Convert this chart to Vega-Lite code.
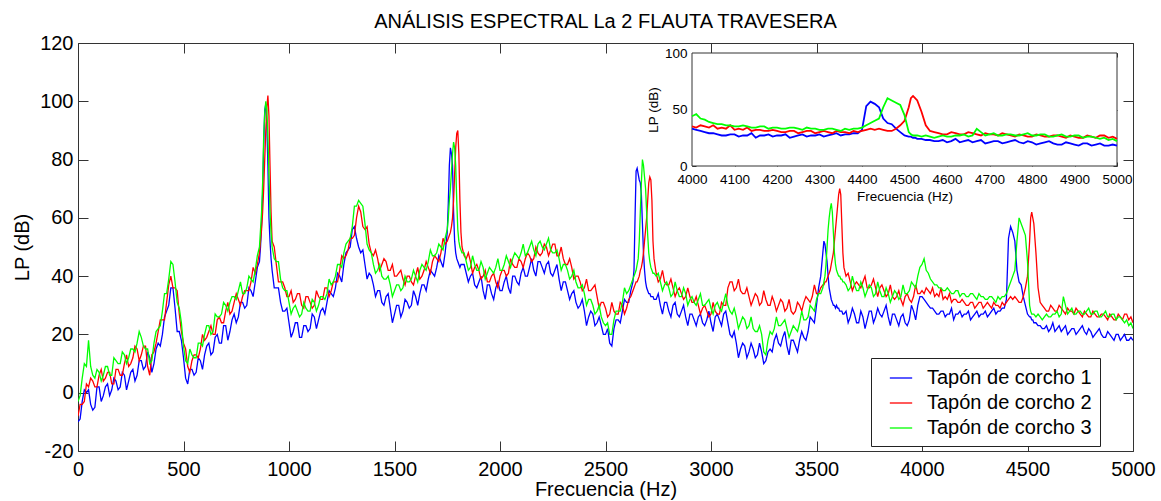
{
"$schema": "https://vega.github.io/schema/vega-lite/v6.json",
"width": 1055, "height": 408,
"autosize": {"type": "none"},
"padding": {"left": 78, "top": 43, "right": 28, "bottom": 50},
"background": "white",
"title": {"text": "ANÁLISIS ESPECTRAL La 2 FLAUTA TRAVESERA", "font": "Liberation Sans", "fontSize": 20, "fontWeight": "normal", "color": "black", "offset": 1, "anchor": "middle"},
"config": {
  "view": {"stroke": "#333333", "strokeWidth": 1},
  "axis": {"grid": false, "domain": false, "tickColor": "#333333", "labelFont": "Liberation Sans", "labelColor": "black", "titleFont": "Liberation Sans", "titleFontWeight": "normal", "titleColor": "black", "labelFlush": false, "labelOverlap": false, "format": "d"},
  "legend": {"orient": "none", "legendX": 793, "legendY": 315, "symbolType": "stroke", "symbolSize": 500, "symbolStrokeWidth": 1.3, "symbolOffset": 10, "labelFont": "Liberation Sans", "labelFontSize": 20, "labelColor": "black", "labelLimit": 0, "strokeColor": "#222222", "fillColor": "white", "padding": 8, "rowPadding": 3, "labelOffset": 14}
},
"datasets": {"spec": [
{"f":0,"t1":-10,"t2":-8,"t3":-3},{"f":10,"t1":-9,"t2":-4,"t3":-1},{"f":20,"t1":-3,"t2":-4,"t3":5},{"f":30,"t1":1,"t2":-3,"t3":10},{"f":40,"t1":0,"t2":3,"t3":9},{"f":50,"t1":1,"t2":2,"t3":18},{"f":60,"t1":-4,"t2":5,"t3":9},{"f":70,"t1":-6,"t2":4,"t3":6},{"f":80,"t1":-5,"t2":2,"t3":5},{"f":90,"t1":2,"t2":2,"t3":8},{"f":100,"t1":2,"t2":6,"t3":7},{"f":110,"t1":-3,"t2":8,"t3":4},{"f":120,"t1":-1,"t2":4,"t3":6},{"f":130,"t1":2,"t2":5,"t3":9},{"f":140,"t1":3,"t2":7,"t3":9},{"f":150,"t1":-1,"t2":7,"t3":6},{"f":160,"t1":1,"t2":3,"t3":6},{"f":170,"t1":5,"t2":3,"t3":12},{"f":180,"t1":4,"t2":8,"t3":11},{"f":190,"t1":1,"t2":8,"t3":10},{"f":200,"t1":2,"t2":6,"t3":10},{"f":210,"t1":7,"t2":6,"t3":14},{"f":220,"t1":6,"t2":10,"t3":13},{"f":230,"t1":1,"t2":13,"t3":10},{"f":240,"t1":4,"t2":9,"t3":12},{"f":250,"t1":7,"t2":10,"t3":15},{"f":260,"t1":8,"t2":12,"t3":15},{"f":270,"t1":4,"t2":16,"t3":14},{"f":280,"t1":6,"t2":15,"t3":17},{"f":290,"t1":11,"t2":11,"t3":21},{"f":300,"t1":11,"t2":13,"t3":19},{"f":310,"t1":8,"t2":16,"t3":16},{"f":320,"t1":9,"t2":16,"t3":15},{"f":330,"t1":14,"t2":9,"t3":15},{"f":340,"t1":12,"t2":6,"t3":10},{"f":350,"t1":7,"t2":13,"t3":11},{"f":360,"t1":10,"t2":14,"t3":17},{"f":370,"t1":15,"t2":17,"t3":21},{"f":380,"t1":17,"t2":21,"t3":22},{"f":390,"t1":16,"t2":25,"t3":23},{"f":400,"t1":20,"t2":25,"t3":28},{"f":410,"t1":26,"t2":25,"t3":34},{"f":420,"t1":28,"t2":31,"t3":34},{"f":430,"t1":30,"t2":37,"t3":39},{"f":440,"t1":36,"t2":40,"t3":45},{"f":450,"t1":36,"t2":36,"t3":44},{"f":460,"t1":29,"t2":36,"t3":38},{"f":470,"t1":21,"t2":35,"t3":31},{"f":480,"t1":21,"t2":27,"t3":29},{"f":490,"t1":18,"t2":21,"t3":24},{"f":500,"t1":12,"t2":17,"t3":16},
{"f":510,"t1":5,"t2":15,"t3":11},{"f":520,"t1":3,"t2":9,"t3":10},{"f":530,"t1":8,"t2":7,"t3":15},{"f":540,"t1":8,"t2":11,"t3":13},{"f":550,"t1":6,"t2":13,"t3":12},{"f":560,"t1":7,"t2":13,"t3":12},{"f":570,"t1":12,"t2":12,"t3":17},{"f":580,"t1":11,"t2":15,"t3":17},{"f":590,"t1":8,"t2":20,"t3":16},{"f":600,"t1":13,"t2":18,"t3":20},{"f":610,"t1":16,"t2":19,"t3":23},{"f":620,"t1":17,"t2":21,"t3":23},{"f":630,"t1":13,"t2":23,"t3":20},{"f":640,"t1":14,"t2":20,"t3":21},{"f":650,"t1":19,"t2":20,"t3":27},{"f":660,"t1":20,"t2":25,"t3":26},{"f":670,"t1":17,"t2":26,"t3":26},{"f":680,"t1":17,"t2":24,"t3":27},{"f":690,"t1":23,"t2":24,"t3":31},{"f":700,"t1":23,"t2":28,"t3":30},{"f":710,"t1":18,"t2":31,"t3":28},{"f":720,"t1":21,"t2":27,"t3":31},{"f":730,"t1":25,"t2":28,"t3":33},{"f":740,"t1":27,"t2":31,"t3":33},{"f":750,"t1":24,"t2":34,"t3":32},{"f":760,"t1":26,"t2":32,"t3":35},{"f":770,"t1":31,"t2":30,"t3":38},{"f":780,"t1":31,"t2":33,"t3":34},{"f":790,"t1":29,"t2":35,"t3":34},{"f":800,"t1":30,"t2":35,"t3":36},{"f":810,"t1":36,"t2":35,"t3":40},{"f":820,"t1":35,"t2":38,"t3":39},{"f":830,"t1":33,"t2":43,"t3":38},{"f":840,"t1":38,"t2":41,"t3":42},{"f":850,"t1":43,"t2":44,"t3":47},{"f":860,"t1":45,"t2":48,"t3":50},{"f":865,"t1":50,"t2":52,"t3":56},{"f":870,"t1":58,"t2":56,"t3":62},{"f":875,"t1":68,"t2":62,"t3":72},{"f":880,"t1":85,"t2":70,"t3":88},{"f":885,"t1":97,"t2":80,"t3":96},{"f":890,"t1":99,"t2":90,"t3":100},{"f":895,"t1":92,"t2":98,"t3":97},{"f":900,"t1":78,"t2":102,"t3":88},{"f":905,"t1":60,"t2":95,"t3":75},{"f":910,"t1":52,"t2":78,"t3":62},{"f":915,"t1":46,"t2":62,"t3":55},{"f":920,"t1":42,"t2":52,"t3":50},{"f":930,"t1":36,"t2":50,"t3":46},{"f":940,"t1":36,"t2":44,"t3":45},{"f":950,"t1":36,"t2":38,"t3":45},{"f":960,"t1":31,"t2":38,"t3":39},{"f":970,"t1":28,"t2":38,"t3":36},{"f":980,"t1":28,"t2":36,"t3":35},{"f":990,"t1":29,"t2":33,"t3":35},
{"f":1000,"t1":24,"t2":33,"t3":31},{"f":1010,"t1":19,"t2":35,"t3":27},{"f":1020,"t1":21,"t2":31,"t3":29},{"f":1030,"t1":24,"t2":32,"t3":30},{"f":1040,"t1":24,"t2":34,"t3":28},{"f":1050,"t1":19,"t2":34,"t3":26},{"f":1060,"t1":19,"t2":30,"t3":27},{"f":1070,"t1":23,"t2":29,"t3":31},{"f":1080,"t1":23,"t2":33,"t3":29},{"f":1090,"t1":21,"t2":33,"t3":28},{"f":1100,"t1":22,"t2":31,"t3":28},{"f":1110,"t1":27,"t2":29,"t3":32},{"f":1120,"t1":26,"t2":30,"t3":31},{"f":1130,"t1":22,"t2":35,"t3":28},{"f":1140,"t1":25,"t2":33,"t3":30},{"f":1150,"t1":28,"t2":32,"t3":33},{"f":1160,"t1":29,"t2":32,"t3":33},{"f":1170,"t1":27,"t2":36,"t3":32},{"f":1180,"t1":31,"t2":36,"t3":34},{"f":1190,"t1":35,"t2":33,"t3":39},{"f":1200,"t1":34,"t2":35,"t3":37},{"f":1210,"t1":33,"t2":38,"t3":38},{"f":1220,"t1":36,"t2":38,"t3":40},{"f":1230,"t1":41,"t2":38,"t3":44},{"f":1240,"t1":40,"t2":42,"t3":44},{"f":1250,"t1":38,"t2":47,"t3":43},{"f":1260,"t1":44,"t2":46,"t3":48},{"f":1270,"t1":48,"t2":47,"t3":51},{"f":1280,"t1":49,"t2":49,"t3":52},{"f":1290,"t1":50,"t2":53,"t3":53},{"f":1300,"t1":56,"t2":53,"t3":57},{"f":1310,"t1":57,"t2":54,"t3":64},{"f":1320,"t1":53,"t2":60,"t3":64},{"f":1330,"t1":50,"t2":64,"t3":66},{"f":1340,"t1":48,"t2":62,"t3":65},{"f":1350,"t1":49,"t2":57,"t3":64},{"f":1360,"t1":44,"t2":56,"t3":58},{"f":1370,"t1":39,"t2":57,"t3":51},{"f":1380,"t1":41,"t2":51,"t3":49},{"f":1390,"t1":40,"t2":48,"t3":48},{"f":1400,"t1":37,"t2":47,"t3":44},{"f":1410,"t1":33,"t2":49,"t3":41},{"f":1420,"t1":35,"t2":46,"t3":42},{"f":1430,"t1":35,"t2":42,"t3":44},{"f":1440,"t1":31,"t2":44,"t3":40},{"f":1450,"t1":30,"t2":46,"t3":39},{"f":1460,"t1":33,"t2":45,"t3":39},{"f":1470,"t1":34,"t2":42,"t3":40},{"f":1480,"t1":29,"t2":42,"t3":37},{"f":1490,"t1":24,"t2":44,"t3":33},{"f":1500,"t1":27,"t2":40,"t3":35},{"f":1510,"t1":30,"t2":40,"t3":37},{"f":1520,"t1":30,"t2":41,"t3":37},{"f":1530,"t1":26,"t2":42,"t3":35},{"f":1540,"t1":28,"t2":39,"t3":36},{"f":1550,"t1":32,"t2":37,"t3":40},{"f":1560,"t1":31,"t2":40,"t3":38},{"f":1570,"t1":29,"t2":40,"t3":38},{"f":1580,"t1":30,"t2":38,"t3":39},{"f":1590,"t1":35,"t2":37,"t3":42},{"f":1600,"t1":33,"t2":40,"t3":40},{"f":1610,"t1":30,"t2":43,"t3":38},{"f":1620,"t1":34,"t2":39,"t3":42},{"f":1630,"t1":37,"t2":40,"t3":44},{"f":1640,"t1":37,"t2":42,"t3":43},{"f":1650,"t1":35,"t2":45,"t3":42},{"f":1660,"t1":39,"t2":43,"t3":45},{"f":1670,"t1":42,"t2":41,"t3":49},{"f":1680,"t1":41,"t2":45,"t3":47},{"f":1690,"t1":40,"t2":47,"t3":47},{"f":1700,"t1":43,"t2":46,"t3":48},{"f":1710,"t1":47,"t2":45,"t3":51},{"f":1720,"t1":45,"t2":48,"t3":50},{"f":1730,"t1":43,"t2":53,"t3":49},{"f":1740,"t1":48,"t2":51,"t3":53},{"f":1750,"t1":55,"t2":52,"t3":56},{"f":1755,"t1":65,"t2":53,"t3":60},{"f":1760,"t1":78,"t2":54,"t3":66},{"f":1765,"t1":84,"t2":55,"t3":70},{"f":1770,"t1":82,"t2":57,"t3":76},{"f":1775,"t1":78,"t2":60,"t3":82},{"f":1780,"t1":62,"t2":66,"t3":86},{"f":1785,"t1":52,"t2":75,"t3":84},{"f":1790,"t1":48,"t2":84,"t3":78},{"f":1795,"t1":46,"t2":89,"t3":66},{"f":1800,"t1":45,"t2":90,"t3":56},{"f":1805,"t1":44,"t2":82,"t3":52},{"f":1810,"t1":43,"t2":66,"t3":50},{"f":1815,"t1":44,"t2":55,"t3":49},{"f":1820,"t1":44,"t2":50,"t3":48},{"f":1830,"t1":44,"t2":47,"t3":48},{"f":1840,"t1":41,"t2":46,"t3":45},{"f":1850,"t1":38,"t2":48,"t3":42},{"f":1860,"t1":40,"t2":45,"t3":43},{"f":1870,"t1":41,"t2":41,"t3":47},{"f":1880,"t1":37,"t2":43,"t3":44},{"f":1890,"t1":36,"t2":44,"t3":42},{"f":1900,"t1":38,"t2":42,"t3":42},{"f":1910,"t1":40,"t2":39,"t3":45},{"f":1920,"t1":35,"t2":40,"t3":43},{"f":1930,"t1":32,"t2":42,"t3":39},{"f":1940,"t1":37,"t2":38,"t3":41},{"f":1950,"t1":37,"t2":38,"t3":43},{"f":1960,"t1":34,"t2":40,"t3":42},{"f":1970,"t1":32,"t2":41,"t3":41},{"f":1980,"t1":36,"t2":38,"t3":43},{"f":1990,"t1":38,"t2":36,"t3":46},
{"f":2000,"t1":35,"t2":40,"t3":42},{"f":2010,"t1":35,"t2":42,"t3":42},{"f":2020,"t1":38,"t2":42,"t3":44},{"f":2030,"t1":40,"t2":40,"t3":47},{"f":2040,"t1":36,"t2":41,"t3":45},{"f":2050,"t1":34,"t2":46,"t3":43},{"f":2060,"t1":40,"t2":44,"t3":46},{"f":2070,"t1":40,"t2":43,"t3":48},{"f":2080,"t1":38,"t2":43,"t3":47},{"f":2090,"t1":37,"t2":46,"t3":46},{"f":2100,"t1":41,"t2":45,"t3":48},{"f":2110,"t1":43,"t2":43,"t3":51},{"f":2120,"t1":40,"t2":46,"t3":47},{"f":2130,"t1":40,"t2":48,"t3":48},{"f":2140,"t1":43,"t2":47,"t3":50},{"f":2150,"t1":46,"t2":45,"t3":52},{"f":2160,"t1":42,"t2":46,"t3":49},{"f":2170,"t1":40,"t2":50,"t3":47},{"f":2180,"t1":45,"t2":48,"t3":51},{"f":2190,"t1":45,"t2":47,"t3":52},{"f":2200,"t1":43,"t2":48,"t3":50},{"f":2210,"t1":41,"t2":51,"t3":49},{"f":2220,"t1":44,"t2":50,"t3":51},{"f":2230,"t1":45,"t2":47,"t3":53},{"f":2240,"t1":41,"t2":49,"t3":49},{"f":2250,"t1":40,"t2":51,"t3":48},{"f":2260,"t1":42,"t2":51,"t3":48},{"f":2270,"t1":44,"t2":47,"t3":49},{"f":2280,"t1":39,"t2":47,"t3":46},{"f":2290,"t1":35,"t2":50,"t3":42},{"f":2300,"t1":38,"t2":46,"t3":44},{"f":2310,"t1":38,"t2":44,"t3":44},{"f":2320,"t1":35,"t2":44,"t3":42},{"f":2330,"t1":32,"t2":46,"t3":39},{"f":2340,"t1":34,"t2":43,"t3":40},{"f":2350,"t1":35,"t2":39,"t3":42},{"f":2360,"t1":31,"t2":40,"t3":38},{"f":2370,"t1":29,"t2":40,"t3":36},{"f":2380,"t1":30,"t2":38,"t3":36},{"f":2390,"t1":32,"t2":35,"t3":37},{"f":2400,"t1":28,"t2":36,"t3":34},{"f":2410,"t1":23,"t2":39,"t3":30},{"f":2420,"t1":26,"t2":35,"t3":32},{"f":2430,"t1":28,"t2":35,"t3":32},{"f":2440,"t1":27,"t2":36,"t3":30},{"f":2450,"t1":23,"t2":37,"t3":27},{"f":2460,"t1":24,"t2":33,"t3":28},{"f":2470,"t1":26,"t2":29,"t3":30},{"f":2480,"t1":23,"t2":31,"t3":26},{"f":2490,"t1":20,"t2":31,"t3":24},{"f":2500,"t1":20,"t2":29,"t3":23},{"f":2510,"t1":22,"t2":26,"t3":24},{"f":2520,"t1":17,"t2":27,"t3":20},{"f":2530,"t1":16,"t2":31,"t3":20},{"f":2540,"t1":22,"t2":28,"t3":25},{"f":2550,"t1":25,"t2":27,"t3":28},{"f":2560,"t1":25,"t2":27,"t3":28},{"f":2570,"t1":24,"t2":31,"t3":28},{"f":2580,"t1":28,"t2":30,"t3":31},{"f":2590,"t1":32,"t2":27,"t3":36},{"f":2600,"t1":31,"t2":29,"t3":34},{"f":2610,"t1":31,"t2":32,"t3":35},{"f":2620,"t1":35,"t2":33,"t3":37},{"f":2630,"t1":38,"t2":35,"t3":39},{"f":2635,"t1":42,"t2":36,"t3":40},{"f":2640,"t1":60,"t2":37,"t3":41},{"f":2645,"t1":76,"t2":38,"t3":42},{"f":2650,"t1":77,"t2":38,"t3":44},{"f":2655,"t1":75,"t2":39,"t3":46},{"f":2660,"t1":73,"t2":40,"t3":52},{"f":2665,"t1":72,"t2":42,"t3":62},{"f":2670,"t1":68,"t2":43,"t3":72},{"f":2675,"t1":58,"t2":45,"t3":80},{"f":2680,"t1":48,"t2":48,"t3":78},{"f":2685,"t1":42,"t2":52,"t3":74},{"f":2690,"t1":38,"t2":56,"t3":70},{"f":2695,"t1":36,"t2":60,"t3":62},{"f":2700,"t1":35,"t2":66,"t3":54},{"f":2705,"t1":34,"t2":72,"t3":48},{"f":2710,"t1":34,"t2":74,"t3":45},{"f":2715,"t1":33,"t2":73,"t3":43},{"f":2720,"t1":33,"t2":66,"t3":42},{"f":2725,"t1":33,"t2":52,"t3":41},{"f":2730,"t1":32,"t2":46,"t3":41},{"f":2740,"t1":32,"t2":41,"t3":40},{"f":2750,"t1":34,"t2":38,"t3":41},{"f":2760,"t1":30,"t2":39,"t3":38},{"f":2770,"t1":27,"t2":42,"t3":35},{"f":2780,"t1":31,"t2":38,"t3":37},{"f":2790,"t1":31,"t2":37,"t3":38},{"f":2800,"t1":28,"t2":37,"t3":36},{"f":2810,"t1":26,"t2":39,"t3":33},{"f":2820,"t1":30,"t2":36,"t3":34},{"f":2830,"t1":31,"t2":33,"t3":38},{"f":2840,"t1":27,"t2":35,"t3":35},{"f":2850,"t1":26,"t2":36,"t3":33},{"f":2860,"t1":28,"t2":34,"t3":33},{"f":2870,"t1":30,"t2":32,"t3":36},{"f":2880,"t1":26,"t2":33,"t3":34},{"f":2890,"t1":23,"t2":36,"t3":30},{"f":2900,"t1":27,"t2":33,"t3":32},{"f":2910,"t1":27,"t2":31,"t3":33},{"f":2920,"t1":25,"t2":31,"t3":31},{"f":2930,"t1":23,"t2":33,"t3":30},{"f":2940,"t1":26,"t2":30,"t3":32},{"f":2950,"t1":27,"t2":27,"t3":34},{"f":2960,"t1":24,"t2":29,"t3":30},{"f":2970,"t1":23,"t2":30,"t3":30},{"f":2980,"t1":25,"t2":28,"t3":31},{"f":2990,"t1":28,"t2":26,"t3":32},
{"f":3000,"t1":24,"t2":27,"t3":29},{"f":3010,"t1":21,"t2":31,"t3":27},{"f":3020,"t1":26,"t2":28,"t3":30},{"f":3030,"t1":27,"t2":27,"t3":31},{"f":3040,"t1":25,"t2":27,"t3":29},{"f":3050,"t1":23,"t2":31,"t3":28},{"f":3060,"t1":27,"t2":30,"t3":31},{"f":3070,"t1":28,"t2":30,"t3":34},{"f":3080,"t1":24,"t2":36,"t3":30},{"f":3090,"t1":20,"t2":38,"t3":28},{"f":3100,"t1":19,"t2":38,"t3":27},{"f":3110,"t1":21,"t2":35,"t3":29},{"f":3120,"t1":17,"t2":36,"t3":26},{"f":3130,"t1":12,"t2":39,"t3":22},{"f":3140,"t1":15,"t2":35,"t3":24},{"f":3150,"t1":17,"t2":34,"t3":26},{"f":3160,"t1":16,"t2":34,"t3":25},{"f":3170,"t1":12,"t2":36,"t3":22},{"f":3180,"t1":14,"t2":33,"t3":23},{"f":3190,"t1":17,"t2":30,"t3":26},{"f":3200,"t1":15,"t2":32,"t3":22},{"f":3210,"t1":12,"t2":34,"t3":21},{"f":3220,"t1":13,"t2":33,"t3":21},{"f":3230,"t1":17,"t2":30,"t3":23},{"f":3240,"t1":14,"t2":31,"t3":20},{"f":3250,"t1":10,"t2":35,"t3":14},{"f":3260,"t1":11,"t2":32,"t3":13},{"f":3270,"t1":14,"t2":30,"t3":18},{"f":3280,"t1":15,"t2":30,"t3":21},{"f":3290,"t1":14,"t2":33,"t3":20},{"f":3300,"t1":18,"t2":31,"t3":22},{"f":3310,"t1":20,"t2":28,"t3":26},{"f":3320,"t1":17,"t2":30,"t3":23},{"f":3330,"t1":16,"t2":32,"t3":23},{"f":3340,"t1":19,"t2":31,"t3":24},{"f":3350,"t1":21,"t2":28,"t3":25},{"f":3360,"t1":16,"t2":29,"t3":22},{"f":3370,"t1":13,"t2":32,"t3":19},{"f":3380,"t1":18,"t2":28,"t3":21},{"f":3390,"t1":18,"t2":27,"t3":23},{"f":3400,"t1":16,"t2":28,"t3":22},{"f":3410,"t1":14,"t2":31,"t3":21},{"f":3420,"t1":18,"t2":30,"t3":24},{"f":3430,"t1":21,"t2":28,"t3":28},{"f":3440,"t1":19,"t2":31,"t3":25},{"f":3450,"t1":18,"t2":33,"t3":25},{"f":3460,"t1":21,"t2":32,"t3":26},{"f":3470,"t1":26,"t2":31,"t3":30},{"f":3480,"t1":25,"t2":33,"t3":29},{"f":3490,"t1":24,"t2":37,"t3":28},{"f":3500,"t1":30,"t2":34,"t3":32},{"f":3510,"t1":36,"t2":34,"t3":34},{"f":3520,"t1":40,"t2":36,"t3":34},{"f":3530,"t1":48,"t2":37,"t3":36},{"f":3535,"t1":52,"t2":37,"t3":38},{"f":3540,"t1":51,"t2":38,"t3":40},{"f":3545,"t1":48,"t2":38,"t3":44},{"f":3550,"t1":45,"t2":39,"t3":50},{"f":3555,"t1":40,"t2":40,"t3":56},{"f":3560,"t1":36,"t2":41,"t3":60},{"f":3565,"t1":34,"t2":42,"t3":63},{"f":3570,"t1":32,"t2":44,"t3":65},{"f":3575,"t1":31,"t2":46,"t3":62},{"f":3580,"t1":30,"t2":48,"t3":55},{"f":3585,"t1":30,"t2":52,"t3":48},{"f":3590,"t1":29,"t2":56,"t3":44},{"f":3595,"t1":30,"t2":60,"t3":42},{"f":3600,"t1":29,"t2":64,"t3":41},{"f":3605,"t1":29,"t2":68,"t3":40},{"f":3610,"t1":28,"t2":70,"t3":40},{"f":3615,"t1":28,"t2":68,"t3":39},{"f":3620,"t1":28,"t2":58,"t3":39},{"f":3625,"t1":27,"t2":48,"t3":38},{"f":3630,"t1":27,"t2":43,"t3":38},{"f":3640,"t1":28,"t2":40,"t3":37},{"f":3650,"t1":24,"t2":41,"t3":35},{"f":3660,"t1":26,"t2":38,"t3":36},{"f":3670,"t1":29,"t2":35,"t3":40},{"f":3680,"t1":27,"t2":37,"t3":37},{"f":3690,"t1":24,"t2":38,"t3":35},{"f":3700,"t1":24,"t2":37,"t3":35},{"f":3710,"t1":28,"t2":36,"t3":38},{"f":3720,"t1":26,"t2":38,"t3":36},{"f":3730,"t1":22,"t2":40,"t3":33},{"f":3740,"t1":25,"t2":36,"t3":35},{"f":3750,"t1":28,"t2":36,"t3":37},{"f":3760,"t1":28,"t2":37,"t3":36},{"f":3770,"t1":24,"t2":39,"t3":33},{"f":3780,"t1":26,"t2":36,"t3":34},{"f":3790,"t1":29,"t2":33,"t3":38},{"f":3800,"t1":27,"t2":36,"t3":35},{"f":3810,"t1":26,"t2":37,"t3":33},{"f":3820,"t1":28,"t2":35,"t3":33},{"f":3830,"t1":30,"t2":33,"t3":36},{"f":3840,"t1":26,"t2":34,"t3":34},{"f":3850,"t1":23,"t2":37,"t3":31},{"f":3860,"t1":27,"t2":33,"t3":33},{"f":3870,"t1":27,"t2":32,"t3":35},{"f":3880,"t1":25,"t2":33,"t3":34},{"f":3890,"t1":23,"t2":35,"t3":32},{"f":3900,"t1":26,"t2":32,"t3":33},{"f":3910,"t1":27,"t2":30,"t3":37},{"f":3920,"t1":24,"t2":33,"t3":34},{"f":3930,"t1":23,"t2":34,"t3":34},{"f":3940,"t1":25,"t2":32,"t3":35},{"f":3950,"t1":30,"t2":31,"t3":38},{"f":3960,"t1":28,"t2":33,"t3":37},{"f":3970,"t1":25,"t2":37,"t3":36},{"f":3980,"t1":30,"t2":34,"t3":40},{"f":3990,"t1":33,"t2":34,"t3":43},
{"f":4000,"t1":33,"t2":35,"t3":44},{"f":4010,"t1":32,"t2":34,"t3":46},{"f":4020,"t1":31,"t2":36,"t3":42},{"f":4030,"t1":30,"t2":35,"t3":41},{"f":4040,"t1":29,"t2":34,"t3":39},{"f":4050,"t1":29,"t2":36,"t3":38},{"f":4060,"t1":28,"t2":33,"t3":37},{"f":4070,"t1":27,"t2":34,"t3":37},{"f":4080,"t1":27,"t2":33,"t3":36},{"f":4090,"t1":28,"t2":36,"t3":36},{"f":4100,"t1":28,"t2":32,"t3":35},{"f":4110,"t1":26,"t2":33,"t3":35},{"f":4120,"t1":27,"t2":32,"t3":36},{"f":4130,"t1":27,"t2":34,"t3":35},{"f":4140,"t1":29,"t2":31,"t3":34},{"f":4150,"t1":25,"t2":32,"t3":34},{"f":4160,"t1":27,"t2":32,"t3":35},{"f":4170,"t1":27,"t2":31,"t3":35},{"f":4180,"t1":28,"t2":31,"t3":33},{"f":4190,"t1":26,"t2":32,"t3":34},{"f":4200,"t1":27,"t2":31,"t3":34},{"f":4210,"t1":27,"t2":30,"t3":33},{"f":4220,"t1":28,"t2":30,"t3":33},{"f":4230,"t1":25,"t2":31,"t3":34},{"f":4240,"t1":26,"t2":31,"t3":34},{"f":4250,"t1":27,"t2":29,"t3":33},{"f":4260,"t1":28,"t2":30,"t3":32},{"f":4270,"t1":26,"t2":31,"t3":34},{"f":4280,"t1":27,"t2":31,"t3":33},{"f":4290,"t1":27,"t2":29,"t3":33},{"f":4300,"t1":28,"t2":30,"t3":32},{"f":4310,"t1":26,"t2":31,"t3":32},{"f":4320,"t1":27,"t2":30,"t3":33},{"f":4330,"t1":28,"t2":29,"t3":33},{"f":4340,"t1":29,"t2":31,"t3":32},{"f":4350,"t1":27,"t2":30,"t3":31},{"f":4360,"t1":28,"t2":30,"t3":33},{"f":4370,"t1":28,"t2":29,"t3":32},{"f":4380,"t1":29,"t2":31,"t3":33},{"f":4390,"t1":29,"t2":30,"t3":33},{"f":4400,"t1":32,"t2":31,"t3":34},{"f":4410,"t1":53,"t2":32,"t3":36},{"f":4420,"t1":57,"t2":33,"t3":38},{"f":4430,"t1":55,"t2":32,"t3":40},{"f":4440,"t1":52,"t2":33,"t3":42},{"f":4450,"t1":42,"t2":32,"t3":52},{"f":4460,"t1":38,"t2":31,"t3":60},{"f":4470,"t1":37,"t2":31,"t3":58},{"f":4480,"t1":33,"t2":33,"t3":56},{"f":4490,"t1":30,"t2":36,"t3":54},{"f":4500,"t1":27,"t2":40,"t3":45},{"f":4510,"t1":26,"t2":52,"t3":30},{"f":4515,"t1":26,"t2":60,"t3":28},{"f":4520,"t1":25,"t2":62,"t3":27},{"f":4525,"t1":25,"t2":60,"t3":27},{"f":4530,"t1":24,"t2":58,"t3":27},{"f":4540,"t1":24,"t2":48,"t3":26},{"f":4550,"t1":23,"t2":36,"t3":27},{"f":4560,"t1":23,"t2":31,"t3":26},{"f":4570,"t1":22,"t2":30,"t3":25},{"f":4580,"t1":22,"t2":29,"t3":26},{"f":4590,"t1":23,"t2":28,"t3":27},{"f":4600,"t1":21,"t2":28,"t3":26},{"f":4610,"t1":22,"t2":30,"t3":26},{"f":4620,"t1":24,"t2":29,"t3":27},{"f":4630,"t1":21,"t2":28,"t3":27},{"f":4640,"t1":22,"t2":28,"t3":28},{"f":4650,"t1":23,"t2":30,"t3":26},{"f":4660,"t1":21,"t2":29,"t3":27},{"f":4670,"t1":22,"t2":28,"t3":33},{"f":4680,"t1":23,"t2":27,"t3":30},{"f":4690,"t1":20,"t2":29,"t3":27},{"f":4700,"t1":21,"t2":28,"t3":28},{"f":4710,"t1":22,"t2":28,"t3":29},{"f":4720,"t1":22,"t2":27,"t3":27},{"f":4730,"t1":20,"t2":29,"t3":27},{"f":4740,"t1":21,"t2":28,"t3":28},{"f":4750,"t1":22,"t2":27,"t3":28},{"f":4760,"t1":23,"t2":26,"t3":27},{"f":4770,"t1":21,"t2":28,"t3":27},{"f":4780,"t1":20,"t2":27,"t3":28},{"f":4790,"t1":22,"t2":26,"t3":29},{"f":4800,"t1":21,"t2":26,"t3":27},{"f":4810,"t1":19,"t2":28,"t3":27},{"f":4820,"t1":20,"t2":27,"t3":28},{"f":4830,"t1":21,"t2":26,"t3":28},{"f":4840,"t1":22,"t2":26,"t3":26},{"f":4850,"t1":20,"t2":27,"t3":26},{"f":4860,"t1":19,"t2":27,"t3":27},{"f":4870,"t1":19,"t2":26,"t3":28},{"f":4880,"t1":21,"t2":25,"t3":26},{"f":4890,"t1":20,"t2":27,"t3":26},{"f":4900,"t1":19,"t2":26,"t3":27},{"f":4910,"t1":18,"t2":25,"t3":27},{"f":4920,"t1":20,"t2":25,"t3":25},{"f":4930,"t1":20,"t2":27,"t3":26},{"f":4940,"t1":18,"t2":26,"t3":26},{"f":4950,"t1":19,"t2":25,"t3":25},{"f":4960,"t1":20,"t2":27,"t3":24},{"f":4970,"t1":18,"t2":27,"t3":25},{"f":4980,"t1":18,"t2":25,"t3":23},{"f":4990,"t1":19,"t2":26,"t3":24},{"f":5000,"t1":18,"t2":24,"t3":22}
]},
"data": {"name": "spec"},
"layer": [
 {
  "transform": [{"fold": ["t1", "t2", "t3"], "as": ["s", "v"]}],
  "layer": [
   {"mark": {"type": "line", "strokeWidth": 1.3, "clip": true},
    "encoding": {
     "x": {"field": "f", "type": "quantitative", "scale": {"domain": [0, 5000], "nice": false, "zero": false},
       "axis": {"orient": "bottom", "values": [0,500,1000,1500,2000,2500,3000,3500,4000,4500,5000], "title": "Frecuencia (Hz)", "tickSize": -10, "labelPadding": 18, "labelFontSize": 20, "titleFontSize": 20, "titlePadding": 0}},
     "y": {"field": "v", "type": "quantitative", "scale": {"domain": [-20, 120], "nice": false, "zero": false},
       "axis": {"orient": "left", "values": [-20,0,20,40,60,80,100,120], "labelExpr": "replace(datum.label, '−', '-')", "title": "LP (dB)", "tickSize": -10, "labelPadding": 15, "labelFontSize": 20, "titleFontSize": 20, "titlePadding": 7}},
     "color": {"field": "s", "type": "nominal", "scale": {"domain": ["t1", "t2", "t3"], "range": ["#0000ff", "#ff0000", "#00ff00"]},
       "legend": {"title": null, "labelExpr": "replace(datum.label, 't', 'Tapón de corcho ')"}}
    }},
   {"mark": {"type": "line", "opacity": 0},
    "encoding": {
     "x": {"field": "f", "type": "quantitative", "axis": {"orient": "top", "values": [0,500,1000,1500,2000,2500,3000,3500,4000,4500,5000], "labels": false, "title": null, "tickSize": -10}},
     "y": {"field": "v", "type": "quantitative", "axis": {"orient": "right", "values": [-20,0,20,40,60,80,100,120], "labels": false, "title": null, "tickSize": -10}}
    }}
  ],
  "resolve": {"axis": {"x": "independent", "y": "independent"}}
 },
 {
  "layer": [
   {"data": {"values": [{}]},
    "mark": {"type": "rect", "fill": "white", "stroke": "#333333", "strokeWidth": 1},
    "encoding": {
     "x": {"datum": 4000, "type": "quantitative", "scale": {"domain": [4000, 5000], "range": [614, 1039], "nice": false, "zero": false},
       "axis": {"orient": "bottom", "offset": -285, "values": [4000,4100,4200,4300,4400,4500,4600,4700,4800,4900,5000], "title": "Frecuencia (Hz)", "tickSize": -4, "labelPadding": 10, "labelFontSize": 13.5, "titleFontSize": 13.5, "titlePadding": 4}},
     "x2": {"datum": 5000},
     "y": {"datum": 0, "type": "quantitative", "scale": {"domain": [0, 100], "range": [123, 10], "nice": false, "zero": false},
       "axis": {"orient": "left", "offset": -614, "values": [0, 50, 100], "title": "LP (dB)", "tickSize": -4, "labelPadding": 9, "labelFontSize": 13.5, "titleFontSize": 13.5, "titlePadding": 4}},
     "y2": {"datum": 100}
    }},
   {"transform": [{"fold": ["t1", "t2", "t3"], "as": ["s", "v"]}, {"filter": "datum.f >= 4000"}],
    "mark": {"type": "line", "strokeWidth": 1.8},
    "encoding": {
     "x": {"field": "f", "type": "quantitative", "axis": null},
     "y": {"field": "v", "type": "quantitative", "axis": null},
     "color": {"field": "s", "type": "nominal", "legend": {"title": null, "labelExpr": "replace(datum.label, 't', 'Tapón de corcho ')"}}
    }},
   {"data": {"values": [{}]},
    "mark": {"type": "point", "opacity": 0},
    "encoding": {
     "x": {"datum": 4000, "type": "quantitative", "axis": {"orient": "top", "offset": -10, "values": [4000,4100,4200,4300,4400,4500,4600,4700,4800,4900,5000], "labels": false, "title": null, "tickSize": -4}},
     "y": {"datum": 0, "type": "quantitative", "axis": {"orient": "right", "offset": -16, "values": [0, 50, 100], "labels": false, "title": null, "tickSize": -4}}
    }}
  ],
  "resolve": {"axis": {"x": "independent", "y": "independent"}}
 }
],
"resolve": {"scale": {"x": "independent", "y": "independent"}}
}
